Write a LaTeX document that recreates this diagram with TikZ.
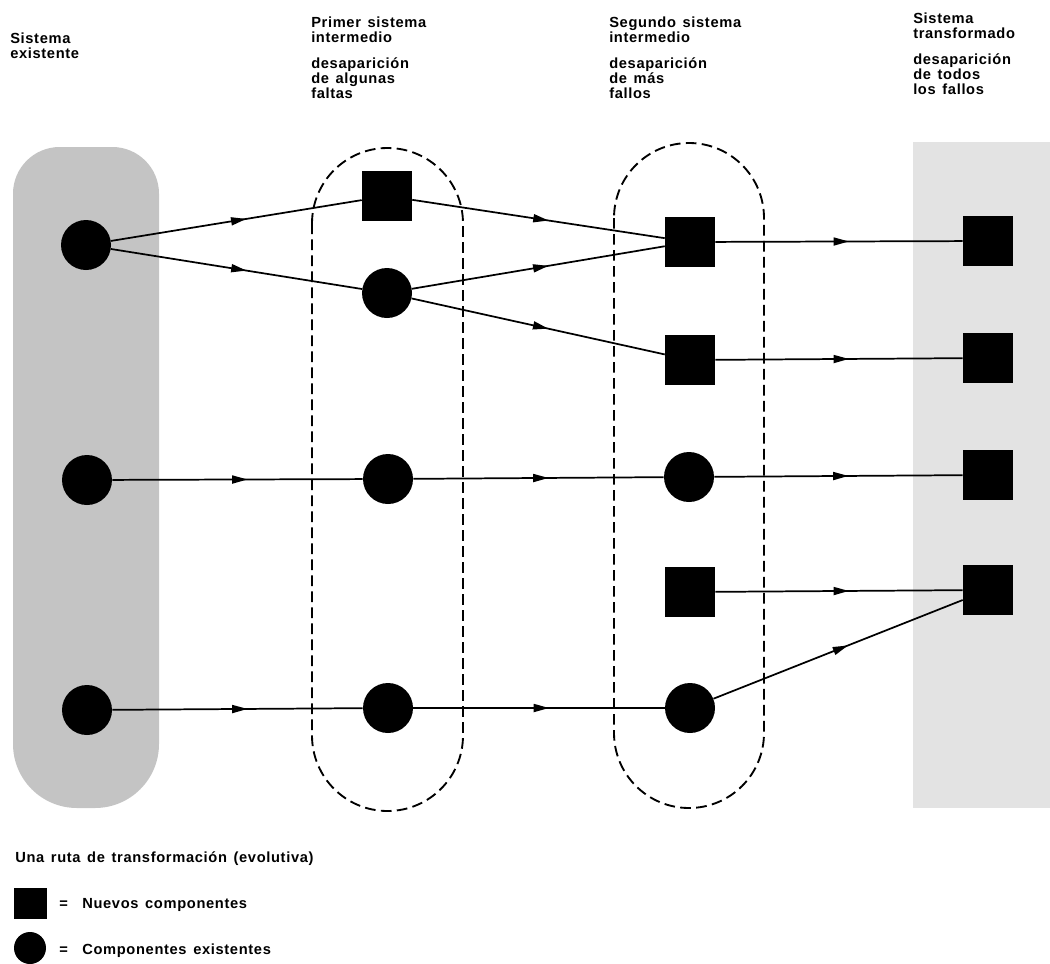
\documentclass[tikz,border=0pt]{standalone}
\usepackage{fontspec}
\setmainfont{Liberation Sans}
\newfontfamily\lblfont{Liberation Sans}[LetterSpace=4.5,WordSpace=1.4]
\usetikzlibrary{arrows.meta,decorations.markings}

\begin{document}
\begin{tikzpicture}[x=0.75pt,y=-0.75pt]
  \tikzset{
    existing/.style={circle, fill=black, inner sep=0pt, minimum size=37.5pt},
    newcomp/.style={rectangle, fill=black, inner sep=0pt, minimum size=37.5pt},
    flow/.style={line width=1.3pt, postaction={decorate},
      decoration={markings, mark=at position 0.54 with {\arrow{Triangle[length=11.5pt,width=6pt]}}}},
    stage/.style={line width=1.4pt, dash pattern=on 8pt off 4pt},
    lbl/.style={font=\lblfont\fontsize{11}{11.25}\selectfont\bfseries, align=left, inner sep=0pt},
  }
  \useasboundingbox (0,0) rectangle (1050,964);

  % shaded backgrounds: existing system and transformed system
  \fill[black!23] (13,480) [rounded corners=35pt] -- (13,147) -- (159,147) -- (159,480)
        [rounded corners=48pt] -- (159,808) -- (13,808) -- cycle;
  \fill[black!11] (913,142) rectangle (1050,808);

  % dashed outlines of the two intermediate systems
  \draw[stage, rounded corners=56.6pt] (312,148) rectangle (463,811);
  \draw[stage, rounded corners=56.25pt] (614,143) rectangle (764,808);

  % column headings
  \node[lbl, anchor=north west] (h0) at (10,33) {Sistema\\existente};
  \node[lbl, anchor=north west] (h1) at (311,17) {Primer sistema\\intermedio\\[8pt]desaparición\\de algunas\\faltas};
  \node[lbl, anchor=north west] (h2) at (609,17) {Segundo sistema\\intermedio\\[8pt]desaparición\\de más\\fallos};
  \node[lbl, anchor=north west] (h3) at (913,13) {Sistema\\transformado\\[8pt]desaparición\\de todos\\los fallos};

  % existing system
  \node[existing] (l1) at (86,245) {};
  \node[existing] (l2) at (87,480) {};
  \node[existing] (l3) at (87,710) {};

  % first intermediate system
  \node[newcomp]  (a1) at (387,196) {};
  \node[existing] (a2) at (387,293) {};
  \node[existing] (a3) at (388,479) {};
  \node[existing] (a4) at (388,708) {};

  % second intermediate system
  \node[newcomp]  (b1) at (690,242) {};
  \node[newcomp]  (b2) at (690,360) {};
  \node[existing] (b3) at (689,477) {};
  \node[newcomp]  (b4) at (690,592) {};
  \node[existing] (b5) at (690,708) {};

  % transformed system
  \node[newcomp] (r1) at (988,241) {};
  \node[newcomp] (r2) at (988,358) {};
  \node[newcomp] (r3) at (988,475) {};
  \node[newcomp] (r4) at (988,590) {};

  % transformation paths
  \draw[flow] (l1) -- (a1);
  \draw[flow] (l1) -- (a2);
  \draw[flow] (l2) -- (a3);
  \draw[flow] (l3) -- (a4);
  \draw[flow] (a1) -- (b1);
  \draw[flow] (a2) -- (b1);
  \draw[flow] (a2) -- (b2);
  \draw[flow] (a3) -- (b3);
  \draw[flow] (a4) -- (b5);
  \draw[flow] (b1) -- (r1);
  \draw[flow] (b2) -- (r2);
  \draw[flow] (b3) -- (r3);
  \draw[flow] (b4) -- (r4);
  \draw[flow] (b5) -- (r4);

  % legend
  \node[lbl, anchor=base west] (cap) at (15,862) {Una ruta de transformación (evolutiva)};
  \node[rectangle, fill=black, inner sep=0pt, minimum width=24.75pt, minimum height=23.5pt] (ksq) at (30.5,903.5) {};
  \node[lbl, anchor=base west] (keq1) at (59,908) {=};
  \node[lbl, anchor=base west] (ktx1) at (82,908) {Nuevos componentes};
  \node[circle, fill=black, inner sep=0pt, minimum size=24pt] (kci) at (30,948) {};
  \node[lbl, anchor=base west] (keq2) at (59,954) {=};
  \node[lbl, anchor=base west] (ktx2) at (82,954) {Componentes existentes};
\end{tikzpicture}
\end{document}
